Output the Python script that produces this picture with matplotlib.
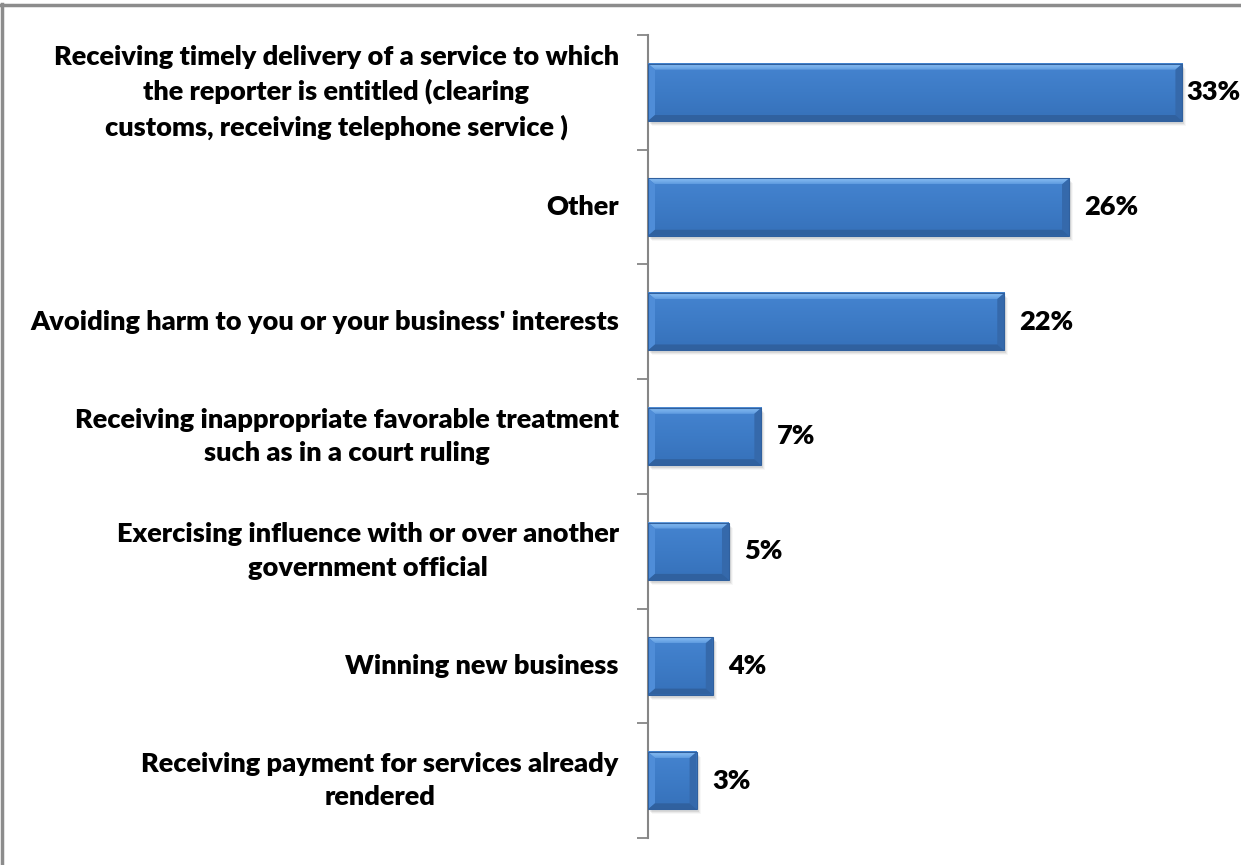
import numpy as np
import matplotlib.pyplot as plt
from matplotlib.colors import LinearSegmentedColormap
from matplotlib.patches import Polygon, Rectangle
from matplotlib.lines import Line2D

categories = [
    "Receiving timely delivery of a service to which\nthe reporter is entitled (clearing\ncustoms, receiving telephone service )",
    "Other",
    "Avoiding harm to you or your business' interests",
    "Receiving inappropriate favorable treatment\nsuch as in a court ruling",
    "Exercising influence with or over another\ngovernment official",
    "Winning new business",
    "Receiving payment for services already\nrendered",
]
values = [33, 26, 22, 7, 5, 4, 3]

plt.rcParams['font.family'] = ['Lato', 'DejaVu Sans']

W, H = 1241, 865
fig = plt.figure(figsize=(W / 100, H / 100), dpi=100)
ax = fig.add_axes([648 / W, 27 / H, (1231 - 648) / W, (838 - 35) / H])

n = len(values)
ypos = np.arange(n)
bar_h = 0.5
ax.set_xlim(0, 36)
ax.set_ylim(n - 0.5, -0.5)

# pixel -> data scale
px_x = 36 / (1231 - 648)
px_y = n / (838 - 35)
bev_x, bev_y = 7 * px_x, 6 * px_y

face_cmap = LinearSegmentedColormap.from_list("face", ["#4584D0", "#3D7BC6", "#3671BA"])
top_cmap = LinearSegmentedColormap.from_list("top", ["#8CC0F4", "#5E9BE0"])

for y, v in zip(ypos, values):
    x0, x1 = 0, v
    top, bot = y - bar_h / 2, y + bar_h / 2
    # soft shadow
    for k, a in enumerate([0.07, 0.05, 0.03]):
        ax.add_patch(Rectangle((x0 + (2 + k) * px_x, top + (3 + k) * px_y), v, bar_h,
                               facecolor="black", alpha=a, lw=0, zorder=1))
    ax.barh(y, v, height=bar_h, color="#3D7BC6", lw=0, zorder=2)
    grad = np.linspace(0, 1, 64).reshape(-1, 1)
    ax.imshow(grad, extent=(x0, x1, bot, top), cmap=face_cmap, aspect="auto",
              zorder=3, origin="upper")
    ix0, ix1 = x0 + bev_x, x1 - bev_x
    iy0, iy1 = top + bev_y, bot - bev_y
    # bevel facets
    top_facet = Polygon([(x0, top), (x1, top), (ix1, iy0), (ix0, iy0)], closed=True,
                        facecolor="none", lw=0, zorder=4)
    ax.add_patch(top_facet)
    im = ax.imshow(grad, extent=(x0, x1, iy0, top), cmap=top_cmap, aspect="auto",
                   zorder=4, origin="upper")
    im.set_clip_path(top_facet)
    ax.add_patch(Polygon([(x0, top), (ix0, iy0), (ix0, iy1), (x0, bot)], closed=True,
                         facecolor="#4F8DD8", lw=0, zorder=4))
    ax.add_patch(Polygon([(x1, top), (x1, bot), (ix1, iy1), (ix1, iy0)], closed=True,
                         facecolor="#3569AB", lw=0, zorder=4))
    ax.add_patch(Polygon([(x0, bot), (ix0, iy1), (ix1, iy1), (x1, bot)], closed=True,
                         facecolor="#30619F", lw=0, zorder=4))
    ax.add_patch(Rectangle((x0, top), v, bar_h, fill=False, edgecolor="#30609E",
                           lw=0.8, zorder=5))
    pad = 3 if v == max(values) else 11
    ax.annotate(f"{v}%", (v, y), xytext=(pad, 0), textcoords="offset points",
                ha="left", va="center", fontsize=19.5, fontweight="heavy", color="black",
                annotation_clip=False)

ax.set_yticks(ypos)
ax.set_yticklabels(categories, fontsize=19.5, fontweight="heavy", ha="right",
                   va="center", multialignment="center", linespacing=1.48)
ax.set_yticks(np.arange(-0.5, n, 1), minor=True)
ax.tick_params(axis="y", which="major", length=0, pad=21)
ax.tick_params(axis="y", which="minor", length=8, width=1.3, color="#868686")
ax.set_xticks([])
for s in ["top", "right", "bottom"]:
    ax.spines[s].set_visible(False)
ax.spines["left"].set_color("#868686")
ax.spines["left"].set_linewidth(1.5)

# outer frame
fig.add_artist(Line2D([1.5 / W, 1.5 / W], [0, 1 - 4 / H], transform=fig.transFigure,
                      color="#8C8C8C", lw=2.5))
fig.add_artist(Line2D([0, 1], [1 - 4.5 / H, 1 - 4.5 / H], transform=fig.transFigure,
                      color="#8C8C8C", lw=2.5))

fig.savefig("out.png", dpi=100, facecolor="white")
